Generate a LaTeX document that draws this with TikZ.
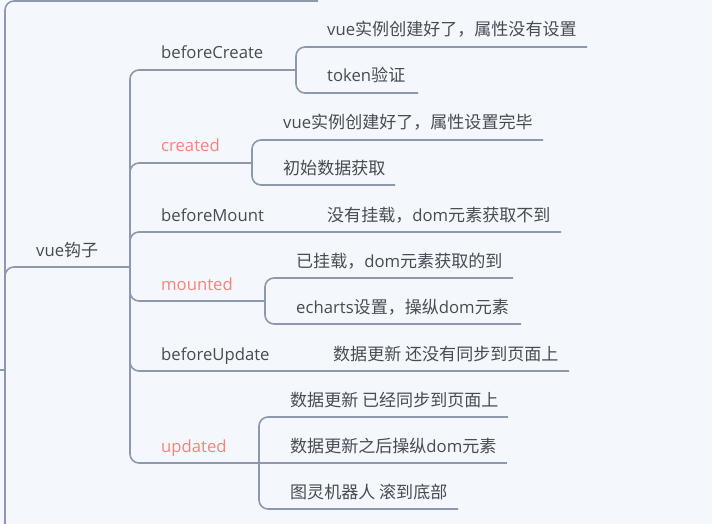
\documentclass[tikz,border=0pt]{standalone}
\usepackage{fontspec}
\setmainfont{Open Sans}
\newfontfamily\cjk[Scale=1.02]{Noto Sans CJK SC}
\definecolor{bgc}{HTML}{F4F8FC}
\definecolor{linec}{HTML}{8E98AC}
\definecolor{txtc}{HTML}{474B54}
\definecolor{redc}{HTML}{F8837A}
\tikzset{
  br/.style={draw=linec, line width=1.6pt, rounded corners=9pt},
  lbl/.style={anchor=base west, inner sep=0pt, text=txtc, font=\fontsize{16.7}{20}\selectfont},
  hot/.style={lbl, text=redc},
}
\begin{document}
\begin{tikzpicture}[x=1pt, y=-1pt]
\fill[bgc] (0,0) rectangle (712,524);
\useasboundingbox (0,0) rectangle (712,524);
% junctions
\coordinate (j0) at (5,370);
\coordinate (j1) at (130,267);
\coordinate (jbc) at (296,70);
\coordinate (jcr) at (252,163);
\coordinate (jmo) at (265,301);
\coordinate (jup) at (259,463);
% line ends
\coordinate (s0) at (-5,370);
\coordinate (etop) at (318,1);
\coordinate (ebot) at (5,530);
\coordinate (ebm) at (561,232);
\coordinate (ebu) at (569,371);
\coordinate (ec1) at (587,47);
\coordinate (ec2) at (418,93);
\coordinate (ec3) at (543,140);
\coordinate (ec4) at (395,185);
\coordinate (ec5) at (513,278);
\coordinate (ec6) at (521,324);
\coordinate (ec7) at (508,417);
\coordinate (ec8) at (507,463);
\coordinate (ec9) at (458,509);
% labels
\node[lbl] (root) at (36,256) {vue{\cjk 钩子}};
\node[lbl] (bc) at (161,59) {beforeCreate};
\node[hot] (cr) at (161,152) {created};
\node[lbl] (bm) at (161,221) {beforeMount};
\node[hot] (mo) at (161,290) {mounted};
\node[lbl] (bu) at (161,360) {beforeUpdate};
\node[hot] (up) at (161,452) {updated};
\node[lbl] (c1) at (327,36) {vue{\cjk 实例创建好了，属性没有设置}};
\node[lbl] (c2) at (327,82) {token{\cjk 验证}};
\node[lbl] (c3) at (283,129) {vue{\cjk 实例创建好了，属性设置完毕}};
\node[lbl] (c4) at (283,174) {{\cjk 初始数据获取}};
\node[lbl] (cbm) at (327,221) {{\cjk 没有挂载，}dom{\cjk 元素获取不到}};
\node[lbl] (c5) at (296,267) {{\cjk 已挂载，}dom{\cjk 元素获取的到}};
\node[lbl] (c6) at (296,313) {echarts{\cjk 设置，操纵}dom{\cjk 元素}};
\node[lbl] (cbu) at (333,360) {{\cjk 数据更新 还没有同步到页面上}};
\node[lbl] (c7) at (290,406) {{\cjk 数据更新 已经同步到页面上}};
\node[lbl] (c8) at (290,452) {{\cjk 数据更新之后操纵}dom{\cjk 元素}};
\node[lbl] (c9) at (290,498) {{\cjk 图灵机器人 滚到底部}};
% connectors
\draw[br] (s0) -- (j0);
\draw[br] (j0) |- (etop);
\draw[br] (j0) -- (ebot);
\draw[br] (j0) |- (j1);
\draw[br] (j1) |- (jbc);
\draw[br] (j1) |- (jcr);
\draw[br] (j1) |- (ebm);
\draw[br] (j1) |- (jmo);
\draw[br] (j1) |- (ebu);
\draw[br] (j1) |- (jup);
\draw[br] (jbc) |- (ec1);
\draw[br] (jbc) |- (ec2);
\draw[br] (jcr) |- (ec3);
\draw[br] (jcr) |- (ec4);
\draw[br] (jmo) |- (ec5);
\draw[br] (jmo) |- (ec6);
\draw[br] (jup) |- (ec7);
\draw[br] (jup) -- (ec8);
\draw[br] (jup) |- (ec9);
\end{tikzpicture}
\end{document}
